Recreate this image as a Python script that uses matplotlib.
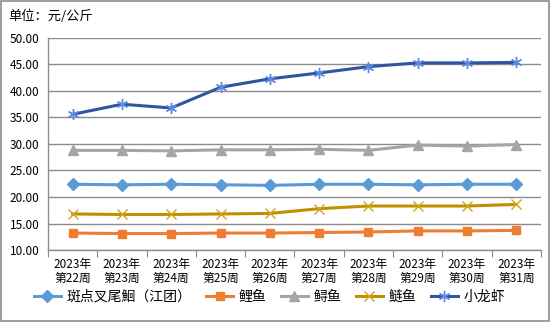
import numpy as np
import matplotlib.pyplot as plt

plt.rcParams['font.family'] = ['Noto Sans CJK SC', 'DejaVu Sans']

# 横轴类别
weeks = ['2023年\n第22周', '2023年\n第23周', '2023年\n第24周', '2023年\n第25周', '2023年\n第26周',
         '2023年\n第27周', '2023年\n第28周', '2023年\n第29周', '2023年\n第30周', '2023年\n第31周']

# 各品种价格（元/公斤）
catfish = [22.4, 22.3, 22.4, 22.3, 22.2, 22.4, 22.4, 22.3, 22.4, 22.4]
carp = [13.2, 13.1, 13.1, 13.2, 13.2, 13.3, 13.4, 13.6, 13.6, 13.7]
sturgeon = [28.8, 28.8, 28.7, 28.9, 28.9, 29.0, 28.8, 29.8, 29.6, 29.9]
silver_carp = [16.8, 16.7, 16.7, 16.8, 16.9, 17.8, 18.3, 18.3, 18.3, 18.6]
crayfish = [35.6, 37.5, 36.8, 40.7, 42.3, 43.4, 44.6, 45.3, 45.3, 45.4]

names = ['斑点叉尾鮰（江团）', '鲤鱼', '鲟鱼', '鲢鱼', '小龙虾']

fig = plt.figure(figsize=(5.5, 3.22), dpi=100)
ax = fig.add_axes([0.0873, 0.2236, 0.8963, 0.6584])

x = np.arange(len(weeks))

# 线条样式
ax.plot(x, catfish, color='#5B9BD5', lw=2.2, marker='D', ms=6, mfc='#5B9BD5', mec='#5B9BD5', zorder=3)
ax.plot(x, carp, color='#ED7D31', lw=2.2, marker='s', ms=6, mfc='#ED7D31', mec='#ED7D31', zorder=3)
ax.plot(x, sturgeon, color='#A5A5A5', lw=2.2, marker='^', ms=7, mfc='#A5A5A5', mec='#A5A5A5', zorder=3)
ax.plot(x, silver_carp, color='#BF9000', lw=2.2, marker='x', ms=7, mew=1.0, mec='#D4A21A', zorder=3)
ax.plot(x, crayfish, color='#2F55A0', lw=2.2, marker=(6, 2, 0), ms=8, mew=1.0, mec='#5B8BE0', zorder=3)

ax.set_xlim(-0.5, len(weeks) - 0.5)
ax.set_ylim(10, 50)
ax.set_yticks(np.arange(10, 50.1, 5))
ax.set_yticklabels(['%.2f' % v for v in np.arange(10, 50.1, 5)], fontsize=8.5)
ax.tick_params(axis='y', length=0, pad=6)

# 类别边界刻度
ax.set_xticks(np.arange(-0.5, len(weeks), 1))
ax.set_xticklabels([])
ax.set_xticks(x, minor=True)
ax.set_xticklabels(weeks, minor=True, fontsize=8.5, linespacing=1.05)
ax.tick_params(axis='x', which='major', length=5, direction='out', color='#878787')
ax.tick_params(axis='x', which='minor', length=0, pad=6)

ax.grid(axis='y', color='#8C8C8C', lw=1.0)
ax.set_axisbelow(True)
for s in ['top', 'right']:
    ax.spines[s].set_visible(False)
ax.spines['left'].set_color('#8C8C8C')
ax.spines['bottom'].set_color('#8C8C8C')
ax.spines['left'].set_linewidth(1.0)
ax.spines['bottom'].set_linewidth(1.0)

fig.text(0.015, 0.948, '单位：元/公斤', fontsize=9.5, va='center', ha='left')

handles = ax.get_lines()
fig.legend(handles, names, loc='center', bbox_to_anchor=(0.49, 0.078), ncol=5, frameon=False,
           fontsize=10, handlelength=2.0, columnspacing=1.0, handletextpad=0.4)

# 外框
fig.patches.append(plt.Rectangle((0.001, 0.002), 0.997, 0.995, transform=fig.transFigure,
                                 fill=False, edgecolor='#8C8C8C', lw=1.2))

fig.savefig('out.png', dpi=100)
